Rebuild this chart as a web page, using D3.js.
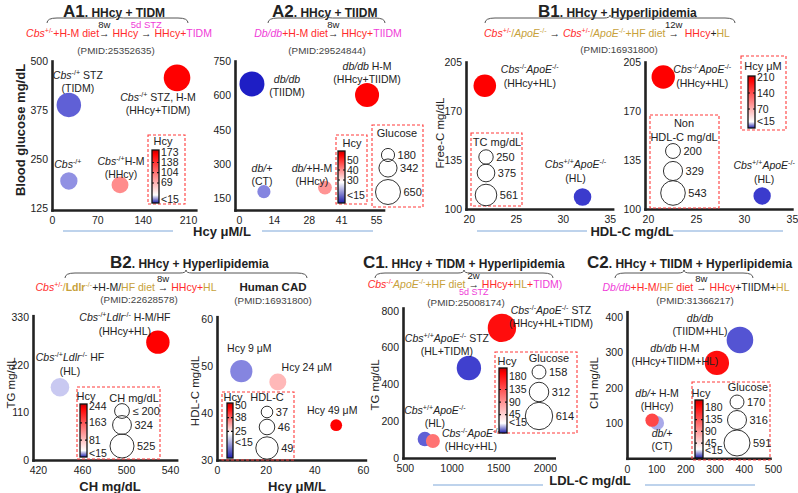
<!DOCTYPE html>
<html>
<head>
<meta charset="utf-8">
<script src="https://cdn.jsdelivr.net/npm/d3@7"></script>
<style>
  body { margin: 0; background: #fff; }
  svg text { font-family: "Liberation Sans", Arial, sans-serif; fill: #222; white-space: pre; }
</style>
</head>
<body>
<svg id="chart" width="798" height="493"></svg>
<script>
// ---------- data ----------
// _x_ = italic, ^x^ = superscript
// A1: Hcy vs blood glucose, bubble size = glucose
const a1Groups = [["_Cbs_^-/+^ STZ", "(TIDM)"], ["_Cbs_^-/+^ STZ, H-M", "(HHcy+TIDM)"], ["_Cbs_^-/+^"], ["_Cbs_^-/+^H-M", "(HHcy)"]];
const a1Hcy = [26, 193, 26, 105];
const a1Glucose = [388, 457, 194, 184];
const a1Tone = [-0.65, 1, -0.45, 0.45];
const a1XTicks = [0, 70, 140, 210];
const a1YTicks = [125, 250, 375, 500];
const a1HcyBar = [173, 138, 104, 69, 15];

// A2
const a2Groups = [["_db/db_", "(TIIDM)"], ["_db/db_ H-M", "(HHcy+TIIDM)"], ["_db/+_", "(CT)"], ["_db/+_H-M", "(HHcy)"]];
const a2Hcy = [5.2, 51.4, 10, 34.5];
const a2Glucose = [650, 602, 180, 198];
const a2Tone = [-0.92, 1, -0.5, 0.42];
const a2XTicks = [0, 14, 28, 41, 55];
const a2YTicks = [150, 300, 450, 600, 750];
const a2HcyBar = [50, 40, 30, 15];
const a2GlucoseKey = [180, 342, 650];

// B1 (two views: sized by TC and by non HDL-C)
const b1Groups = [["_Cbs_^-/-^_ApoE_^-/-^", "(HHcy+HL)"], ["_Cbs_^+/+^_ApoE_^-/-^", "(HL)"]];
const b1HdlA = [21.7, 32.1];
const b1FreeCA = [188, 108.6];
const b1TC = [614, 372];
const b1HdlB = [21.6, 31.9];
const b1FreeCB = [194.3, 109.3];
const b1NonHdl = [491, 271];
const b1Tone = [1, -0.8];
const b1XTicks = [20, 25, 30, 35];
const b1YTicks = [100, 135, 170, 205];
const b1HcyBar = [210, 140, 70, 15];
const b1TCKey = [250, 375, 561];
const b1NonHdlKey = [200, 329, 543];

// B2 mouse
const b2Groups = [["_Cbs_^-/+^_Ldlr_^-/-^ H-M/HF", "(HHcy+HL)"], ["_Cbs_^-/+^_Ldlr_^-/-^ HF", "(HL)"]];
const b2CH = [529, 440];
const b2TG = [272, 168];
const b2CHSize = [498, 315];
const b2Tone = [1, -0.22];
const b2XTicks = [420, 460, 500, 540];
const b2YTicks = [0, 110, 220, 330];
const b2HcyBar = [244, 163, 81, 15];
const b2CHKey = [200, 324, 525];

// B2 human CAD
const cadGroups = [["Hcy 9 μM"], ["Hcy 24 μM"], ["Hcy 49 μM"]];
const cadHcy = [10, 25, 49];
const cadHdl = [48.9, 46.6, 37.4];
const cadTone = [-0.5, 0.28, 1];
const cadXTicks = [0, 20, 40, 60];
const cadYTicks = [30, 40, 50, 60];
const cadHcyBar = [50, 38, 25, 15];
const cadHdlKey = [37, 46, 49];

// C1
const c1Groups = [["_Cbs_^-/-^_ApoE_^-/-^ STZ", "(HHcy+HL+TIDM)"], ["_Cbs_^+/+^_ApoE_^-/-^ STZ", "(HL+TIDM)"],
                  ["_Cbs_^+/+^_ApoE_^-/-^", "(HL)"], ["_Cbs_^-/-^_ApoE_^-/-^", "(HHcy+HL)"]];
const c1LDL = [1540, 1186, 714, 800];
const c1TG = [707, 489, 103, 92];
const c1Glucose = [659, 487, 170, 160];
const c1Tone = [0.95, -0.78, -0.65, 0.55];
const c1XTicks = [500, 1000, 1500, 2000];
const c1YTicks = [0, 200, 400, 600, 800];
const c1HcyBar = [180, 135, 90, 45, 15];
const c1GlucoseKey = [158, 312, 614];

// C2
const c2Groups = [["_db/db_", "(TIIDM+HL)"], ["_db/db_ H-M", "(HHcy+TIIDM+HL)"], ["_db/+_", "(CT)"], ["_db/+_ H-M", "(HHcy)"]];
const c2LDL = [387, 308, 103, 86];
const c2CH = [335, 270, 100, 108];
const c2Glucose = [618, 520, 171, 157];
const c2Tone = [-0.7, 0.95, -0.35, 0.72];
const c2XTicks = [0, 100, 200, 300, 400, 500];
const c2YTicks = [100, 200, 300, 400];
const c2HcyBar = [180, 135, 90, 45, 15];
const c2GlucoseKey = [170, 316, 591];

// ---------- drawing ----------
const svg = d3.select("#chart");
const defs = svg.append("defs");
const R = "#ff2b2b", M = "#f03cd8", G = "#c7a13a", K = "#222";
const tone = d3.scaleLinear().domain([-1, 0, 1]).range(["#0a0ac0", "#ffffff", "#ff0000"]);

function parseMarkup(s) {
  const parts = [];
  let buf = "", it = false, sup = false;
  for (const ch of s) {
    if (ch === "_" || ch === "^") {
      if (buf) parts.push({ t: buf, i: it, sup: sup });
      buf = "";
      if (ch === "_") it = !it; else sup = !sup;
    } else buf += ch;
  }
  if (buf) parts.push({ t: buf, i: it, sup: sup });
  return parts;
}

// lays out a run of styled pieces one after the other
function rich(parent, x, y, parts, o = {}) {
  const size = o.size || 10.5, anchor = o.anchor || "middle";
  const grp = parent.append("g");
  let cx = 0;
  parts.forEach(p => {
    const fs = (p.size || size) * (p.sup ? 0.68 : 1);
    const t = grp.append("text")
      .attr("x", cx).attr("y", p.sup ? -size * 0.4 : 0)
      .style("font-size", fs + "px")
      .style("font-style", p.i ? "italic" : null)
      .style("font-weight", (p.b || o.bold) ? "bold" : null)
      .style("fill", p.c || o.color || K)
      .text(p.t);
    const w = t.node().getComputedTextLength();
    if (p.above) grp.append("text").attr("x", cx + w / 2).attr("y", -size * 0.85)
      .attr("text-anchor", "middle").style("font-size", "9.5px").style("fill", p.ac || K).text(p.above);
    if (p.below) grp.append("text").attr("x", cx + w / 2).attr("y", size * 0.62)
      .attr("text-anchor", "middle").style("font-size", "9px").style("fill", p.bc || K).text(p.below);
    cx += w;
  });
  const sx = anchor === "middle" ? x - cx / 2 : anchor === "end" ? x - cx : x;
  grp.attr("transform", `translate(${sx},${y})`);
  return grp;
}

function brace(x0, x1, y) {
  const m = (x0 + x1) / 2;
  svg.append("path")
    .attr("d", `M${x0},${y + 5} Q${x0},${y} ${x0 + 10},${y} L${m - 6},${y} Q${m},${y} ${m},${y - 3} Q${m},${y} ${m + 6},${y} L${x1 - 10},${y} Q${x1},${y} ${x1},${y + 5}`)
    .attr("fill", "none").attr("stroke", "#555").attr("stroke-width", 1);
}

function box(x, y, w, h) {
  svg.append("rect").attr("x", x).attr("y", y).attr("width", w).attr("height", h)
    .attr("fill", "none").attr("stroke", "#ff3b3b").attr("stroke-width", 1.1).attr("stroke-dasharray", "3,2");
}

function label(x, y, txt, size, bold, rot) {
  const t = svg.append("text").attr("text-anchor", "middle").style("font-size", size + "px")
    .style("font-weight", bold ? "bold" : null).text(txt);
  if (rot) t.attr("transform", `translate(${x},${y}) rotate(-90)`).attr("dy", "0.35em");
  else t.attr("x", x).attr("y", y);
  return t;
}

let cbCount = 0;
function colorBar(c) {
  const id = "cb" + (cbCount++);
  const gr = defs.append("linearGradient").attr("id", id).attr("x1", 0).attr("y1", 0).attr("x2", 0).attr("y2", 1);
  [[0, "#c00000"], [0.08, "#ff0000"], [c.white, "#ffffff"], [1, "#1c1ca8"]]
    .forEach(s => gr.append("stop").attr("offset", s[0]).attr("stop-color", s[1]));
  const s = d3.scaleLinear().domain([c.lo, c.hi]).range([c.y1, c.y0]);
  svg.append("rect").attr("x", c.x).attr("y", c.y0).attr("width", c.w).attr("height", c.y1 - c.y0)
    .attr("fill", `url(#${id})`).attr("stroke", "#111").attr("stroke-width", 1.3);
  c.ticks.forEach((v, i) => {
    if (i > 0 && i < c.ticks.length - 1) {
      [[c.x, c.x + 2], [c.x + c.w - 2, c.x + c.w]].forEach(e =>
        svg.append("line").attr("x1", e[0]).attr("x2", e[1]).attr("y1", s(v)).attr("y2", s(v))
          .attr("stroke", "#111").attr("stroke-width", 1.2));
    }
    svg.append("text").attr("x", c.x + c.w + 2).attr("y", s(v) + 3.5).style("font-size", "10.5px")
      .text(v === 15 ? "<15" : v);
  });
  label(c.tx, c.ty, c.title, 11);
}

function sizeKey(k) {
  k.values.forEach((v, i) => {
    const rr = k.scale(v);
    svg.append("circle").attr("cx", k.cx).attr("cy", k.ys[i]).attr("r", rr)
      .attr("fill", "none").attr("stroke", "#333").attr("stroke-width", 1);
    svg.append("text").attr("x", k.cx + rr + 3).attr("y", k.ys[i] + 4).style("font-size", "11px")
      .text(k.fmt ? k.fmt(v, i) : v);
  });
  k.title.forEach(t => label(t[0], t[1], t[2], 11));
}

function panel(p) {
  const g = svg.append("g");
  const x = d3.scaleLinear().domain(p.xDomain).range(p.xRange);
  const y = d3.scaleLinear().domain(p.yDomain).range(p.yRange);
  const ax = g.append("g").attr("transform", `translate(0,${p.yRange[0]})`)
    .call(d3.axisBottom(x).tickValues(p.xTicks).tickFormat(d3.format("d")).tickSize(0).tickSizeOuter(0).tickPadding(7));
  const ay = g.append("g").attr("transform", `translate(${p.xRange[0]},0)`)
    .call(d3.axisLeft(y).tickValues(p.yTicks).tickFormat(d3.format("d")).tickSize(0).tickSizeOuter(0).tickPadding(4));
  [ax, ay].forEach(a => {
    a.select(".domain").attr("stroke", "#222").attr("stroke-width", 2.6).attr("stroke-linecap", "square");
    a.selectAll("text").style("font-size", "10.5px");
  });
  const data = p.xs.map((v, i) => ({ x: v, y: p.ys[i], s: p.ss[i], t: p.tones[i], lab: p.labels[i], off: p.offsets[i] }));
  g.selectAll("circle.b").data(data).join("circle").attr("class", "b")
    .attr("cx", d => x(d.x)).attr("cy", d => y(d.y)).attr("r", d => p.size(d.s))
    .attr("fill", d => tone(d.t));
  data.forEach(d => d.lab.forEach((line, j) =>
    rich(g, x(d.x) + d.off[0], y(d.y) + d.off[1] + j * p.lineH, parseMarkup(line), { size: 10.5 })));
}

// size scales
const sA1 = d3.scaleSqrt().domain([0, 457]).range([0, 13.3]);
const sA2 = d3.scaleSqrt().domain([0, 650]).range([0, 12.5]);
const sB1a = d3.scaleSqrt().domain([0, 561]).range([0, 10.8]);
const sB1b = d3.scaleSqrt().domain([0, 543]).range([0, 12.3]);
const sB2 = d3.scaleSqrt().domain([0, 525]).range([0, 12]);
const sCad = d3.scaleLinear().domain([37, 46, 49]).range([5.8, 7.8, 11.2]);
const sC1 = d3.scaleSqrt().domain([0, 614]).range([0, 13.7]);
const sC2 = d3.scaleSqrt().domain([0, 591]).range([0, 13]);

// ---- titles ----
function title(x, y, tag, rest) {
  rich(svg, x, y, [{ t: tag, size: 17, b: 1 }, { t: rest, size: 12, b: 1 }], { anchor: "start" });
}
title(63, 17, "A1", ". HHcy + TIDM");
title(272, 17, "A2", ". HHcy + TIIDM");
title(538, 17, "B1", ". HHcy + Hyperlipidemia");
title(110, 268, "B2", ". HHcy + Hyperlipidemia");
title(363, 268, "C1", ". HHcy + TIDM + Hyperlipidemia");
title(587, 268, "C2", ". HHcy + TIIDM + Hyperlipidemia");
brace(47, 188, 18); brace(268, 385, 18); brace(485, 735, 18);
brace(65, 307, 273); brace(375, 553, 273); brace(615, 753, 273);

rich(svg, 119, 37, [{ t: "Cbs", c: R, i: 1 }, { t: "+/-", c: R, sup: 1 }, { t: "+H-M diet", c: R },
  { t: "→", c: K, b: 1, above: "8w" }, { t: " HHcy ", c: R }, { t: "→", c: K, b: 1, above: "5d STZ", ac: M },
  { t: " HHcy+", c: R }, { t: "TIDM", c: M }]);
rich(svg, 328, 37, [{ t: "Db/db", c: M, i: 1 }, { t: "+H-M diet", c: R }, { t: "→", c: K, b: 1, above: "8w" },
  { t: " HHcy+", c: R }, { t: "TIIDM", c: M }]);
rich(svg, 607, 37, [{ t: "Cbs", c: R, i: 1 }, { t: "+/-", c: R, sup: 1 }, { t: "/", c: G }, { t: "ApoE", c: G, i: 1 },
  { t: "-/-", c: G, sup: 1 }, { t: " → ", c: K, b: 1 }, { t: "Cbs", c: R, i: 1 }, { t: "+/-", c: R, sup: 1 }, { t: "/", c: G },
  { t: "ApoE", c: G, i: 1 }, { t: "-/-", c: G, sup: 1 }, { t: "+HF diet ", c: G }, { t: "→", c: K, b: 1, above: "12w" },
  { t: "  HHcy", c: R }, { t: "+", c: K }, { t: "HL", c: G }]);
rich(svg, 126, 291, [{ t: "Cbs", c: R, i: 1 }, { t: "+/-", c: R, sup: 1 }, { t: "/", c: G }, { t: "Ldlr", c: G, b: 1 },
  { t: "-/-", c: G, sup: 1 }, { t: "+H-M/", c: K }, { t: "HF diet ", c: G }, { t: "→", c: K, b: 1, above: "8w" },
  { t: " HHcy+", c: R }, { t: "HL", c: G }]);
rich(svg, 465, 288, [{ t: "Cbs", c: R, i: 1 }, { t: "-/-", c: R, sup: 1 }, { t: "ApoE", c: G, i: 1 }, { t: "-/-", c: G, sup: 1 },
  { t: "+HF diet ", c: G }, { t: "→", c: K, b: 1, above: "2w", below: "5d STZ", bc: M },
  { t: " HHcy+", c: R }, { t: "HL", c: G }, { t: "+", c: R }, { t: "TIDM)", c: M }]);
rich(svg, 696, 291, [{ t: "Db/db", c: M, i: 1 }, { t: "+H-M/", c: R }, { t: "HF", c: G }, { t: " diet ", c: R },
  { t: "→", c: K, b: 1, above: "8w" }, { t: " HHcy", c: R }, { t: "+TIIDM+", c: K }, { t: "HL", c: G }]);

[[116, 54, "(PMID:25352635)"], [327, 54, "(PMID:29524844)"], [619, 53, "(PMID:16931800)"],
 [139, 303, "(PMID:22628578)"], [273, 304, "(PMID:16931800)"], [466, 306, "(PMID:25008174)"], [695, 304, "(PMID:31366217)"]]
  .forEach(d => label(d[0], d[1], d[2], 9.8).style("fill", "#444"));
label(273, 291, "Human CAD", 11.5, true);

// ---- panels ----
panel({ xDomain: [0, 222], xRange: [52, 195.8], yDomain: [120, 500], yRange: [210, 61],
  xTicks: a1XTicks, yTicks: a1YTicks, xs: a1Hcy, ys: a1Glucose, ss: a1Glucose, tones: a1Tone, size: sA1,
  labels: a1Groups, offsets: [[9, -26], [-19, 23], [-1, -13], [1, -20]], lineH: 13.5 });
panel({ xDomain: [-1.6, 58], xRange: [235, 383.5], yDomain: [100, 750], yRange: [210, 61],
  xTicks: a2XTicks, yTicks: a2YTicks, xs: a2Hcy, ys: a2Glucose, ss: a2Glucose, tones: a2Tone, size: sA2,
  labels: a2Groups, offsets: [[35, -1], [0, -25], [-2, -20], [-13, -16]], lineH: 13 });
panel({ xDomain: [19.7, 35.3], xRange: [466, 612.6], yDomain: [100, 205], yRange: [209, 62],
  xTicks: b1XTicks, yTicks: b1YTicks, xs: b1HdlA, ys: b1FreeCA, ss: b1TC, tones: b1Tone, size: sB1a,
  labels: b1Groups, offsets: [[45, -13], [-7, -29]], lineH: 14.5 });
panel({ xDomain: [19.7, 35], xRange: [645, 791.9], yDomain: [100, 205], yRange: [209, 62],
  xTicks: b1XTicks, yTicks: b1YTicks, xs: b1HdlB, ys: b1FreeCB, ss: b1NonHdl, tones: b1Tone, size: sB1b,
  labels: b1Groups, offsets: [[39, -4], [2, -27]], lineH: 14.5 });
panel({ xDomain: [415.5, 546], xRange: [33, 176.6], yDomain: [0, 333], yRange: [460, 315.7],
  xTicks: b2XTicks, yTicks: b2YTicks, xs: b2CH, ys: b2TG, ss: b2CHSize, tones: b2Tone, size: sB2,
  labels: b2Groups, offsets: [[-33, -21], [10, -26]], lineH: 13.5 });
panel({ xDomain: [0, 61], xRange: [217, 365.4], yDomain: [30, 60.5], yRange: [460, 316.7],
  xTicks: cadXTicks, yTicks: cadYTicks, xs: cadHcy, ys: cadHdl, ss: cadHdl, tones: cadTone, size: sCad,
  labels: cadGroups, offsets: [[8, -19], [29, -11], [-4, -11]], lineH: 13 });
panel({ xDomain: [480, 2100], xRange: [403, 554.2], yDomain: [0, 815], yRange: [458, 308],
  xTicks: c1XTicks, yTicks: c1YTicks, xs: c1LDL, ys: c1TG, ss: c1Glucose, tones: c1Tone, size: sC1,
  labels: c1Groups, offsets: [[49, -14], [-22, -26], [10, -25], [38, -4]], lineH: 13 });
panel({ xDomain: [0, 490], xRange: [627, 770], yDomain: [0, 415], yRange: [458.3, 311.7],
  xTicks: c2XTicks, yTicks: c2YTicks, xs: c2LDL, ys: c2CH, ss: c2Glucose, tones: c2Tone, size: sC2,
  labels: c2Groups, offsets: [[-40, -18], [-42, -11], [5, 14], [5, -23]], lineH: 13 });

// ---- legends ----
box(148, 135, 37, 69);
colorBar({ x: 152, y0: 150, y1: 203, w: 7, lo: 1.6, hi: 180, white: 0.85, ticks: a1HcyBar, title: "Hcy", tx: 163, ty: 145 });
box(336, 135, 31, 69);
colorBar({ x: 338, y0: 151, y1: 203, w: 7, lo: 7, hi: 59, white: 0.6, ticks: a2HcyBar, title: "Hcy", tx: 352, ty: 147 });
box(372, 125, 51, 82);
sizeKey({ cx: 388, ys: [155, 168, 192], values: a2GlucoseKey, scale: sA2, title: [[397, 137, "Glucose"]] });
box(471, 133, 51, 73);
sizeKey({ cx: 486, ys: [157, 173, 195], values: b1TCKey, scale: sB1a, title: [[497, 146, "TC mg/dL"]] });
box(650, 115, 69, 93);
sizeKey({ cx: 673, ys: [151, 171, 193], values: b1NonHdlKey, scale: sB1b, title: [[684, 127, "Non"], [684, 141, "HDL-C mg/dL"]] });
box(741, 56, 45, 74);
colorBar({ x: 748, y0: 76, y1: 128, w: 7, lo: -13, hi: 214.4, white: 0.88, ticks: b1HcyBar, title: "Hcy μM", tx: 763, ty: 70 });
box(77, 387, 83, 72);
colorBar({ x: 80, y0: 404, y1: 457, w: 7, lo: 0, hi: 253.6, white: 0.88, ticks: b2HcyBar, title: "Hcy", tx: 86, ty: 400 });
sizeKey({ cx: 122, ys: [411, 425, 446], values: b2CHKey, scale: sB2, fmt: (v, i) => i === 0 ? "≤ " + v : v, title: [[134, 402, "CH mg/dL"]] });
box(222, 392, 72, 68);
colorBar({ x: 227, y0: 403, y1: 458, w: 6, lo: -0.1, hi: 51.9, white: 0.55, ticks: cadHcyBar, title: "Hcy", tx: 233, ty: 401 });
sizeKey({ cx: 267, ys: [412, 427, 448], values: cadHdlKey, scale: sCad, title: [[267, 401, "HDL-C"]] });
box(495, 352, 82, 81);
colorBar({ x: 499, y0: 368, y1: 433, w: 8, lo: -21, hi: 212, white: 0.85, ticks: c1HcyBar, title: "Hcy", tx: 507, ty: 365 });
sizeKey({ cx: 539, ys: [372, 392, 416], values: c1GlucoseKey, scale: sC1, title: [[549, 362, "Glucose"]] });
box(692, 382, 78, 78);
colorBar({ x: 695, y0: 400, y1: 458, w: 8, lo: -11.9, hi: 210.7, white: 0.85, ticks: c2HcyBar, title: "Hcy", tx: 701, ty: 397 });
sizeKey({ cx: 737, ys: [402, 420, 443], values: c2GlucoseKey, scale: sC2, title: [[748, 391, "Glucose"]] });

// ---- axis titles ----
label(20, 130, "Blood glucose mg/dL", 13, true, true);
label(440, 133, "Free-C mg/dL", 11.5, false, true);
label(11, 383, "TG mg/dL", 11.5, false, true);
label(195, 391, "HDL-C mg/dL", 11.5, false, true);
label(375, 385, "TG mg/dL", 11.5, false, true);
label(594, 383, "CH mg/dL", 11.5, false, true);
label(222, 236, "Hcy μM/L", 13, true);
label(632, 236, "HDL-C mg/dL", 13, true);
label(590, 485, "LDL-C mg/dL", 13, true);
label(110, 491, "CH mg/dL", 13, true);
label(297, 491, "Hcy μM/L", 13, true);
[[63, 173, 231], [262, 373, 231], [477, 587, 231], [673, 783, 231], [433, 543, 485], [645, 755, 485]]
  .forEach(l => svg.append("line").attr("x1", l[0]).attr("x2", l[1]).attr("y1", l[2]).attr("y2", l[2])
    .attr("stroke", "#a9c4e6").attr("stroke-width", 1.5));
</script>
</body>
</html>
